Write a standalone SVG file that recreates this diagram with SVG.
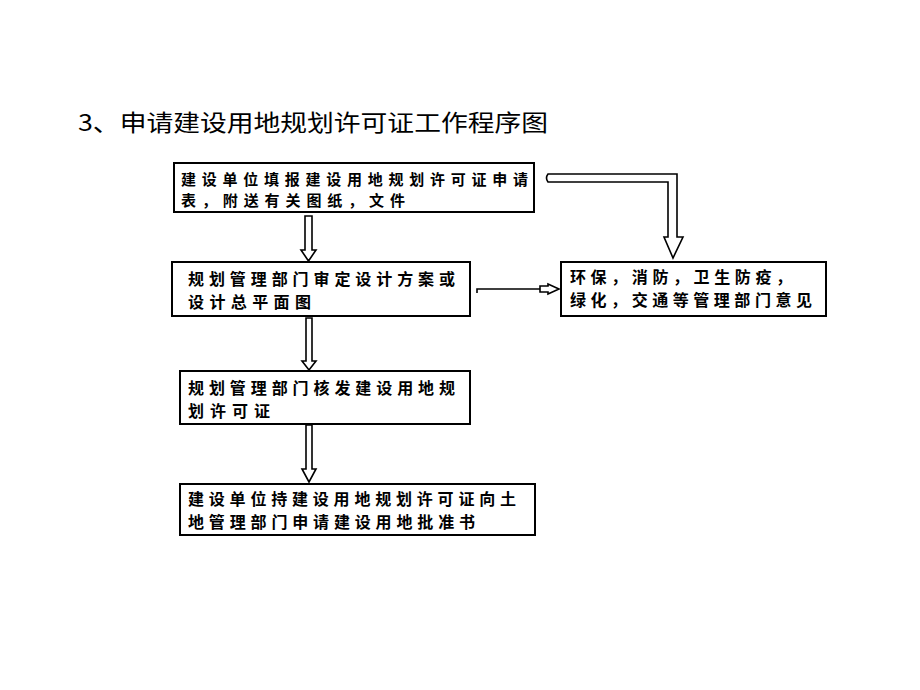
<svg xmlns="http://www.w3.org/2000/svg" width="920" height="690" viewBox="0 0 920 690">
<style>
.box{fill:#fff;stroke:#000;stroke-width:2}
.t{font-family:"Noto Sans CJK SC","Liberation Sans",sans-serif;font-size:16px;font-weight:bold;fill:#000}
.t1{font-size:15px}
.title{font-family:"Noto Sans CJK SC","Liberation Sans",sans-serif;font-size:23px;fill:#000}
.arr{fill:#fff;stroke:#000;stroke-width:1.6;stroke-linejoin:miter}
.ln{fill:none;stroke:#000;stroke-width:1.6}
</style>
<rect width="920" height="690" fill="#fff"/>
<text class="title" x="78" y="131" textLength="470" lengthAdjust="spacingAndGlyphs">3、申请建设用地规划许可证工作程序图</text>
<g id="connectors">
<path class="arr" d="M305,216 L312,216 L312,250 L316,250 L308.5,261 L301,250 L305,250 Z"/>
<path class="arr" d="M306,318 L312,318 L312,361 L316,361 L309,370 L302,361 L306,361 Z"/>
<path class="arr" d="M306,425 L312,425 L312,469 L316,469 L309,482 L302,469 L306,469 Z"/>
<path class="arr" d="M548,174 L677,174 L677,237 L683,237 L673,258 L664,237 L668,237 L668,182 L548,182 Q545,178 548,174 Z"/>
<path class="ln" d="M477,293 L477,289 L540,289"/>
<path class="arr" d="M540,286 L548,286 L548,284 L559,289 L548,294 L548,292 L540,292 Z"/>
</g>
<g id="n1">
<rect class="box" x="174" y="163" width="360" height="49"/>
<text class="t t1" x="181" y="185" textLength="347" lengthAdjust="spacing">建设单位填报建设用地规划许可证申请</text>
<text class="t t1" x="181" y="206" textLength="224" lengthAdjust="spacing">表，附送有关图纸，文件</text>
</g>
<g id="n2">
<rect class="box" x="172" y="262" width="298" height="54"/>
<text class="t" x="188" y="285" textLength="267" lengthAdjust="spacing">规划管理部门审定设计方案或</text>
<text class="t" x="188" y="308" textLength="123" lengthAdjust="spacing">设计总平面图</text>
</g>
<g id="n3">
<rect class="box" x="180" y="371" width="290" height="53"/>
<text class="t" x="188" y="394" textLength="267" lengthAdjust="spacing">规划管理部门核发建设用地规</text>
<text class="t" x="188" y="417" textLength="82" lengthAdjust="spacing">划许可证</text>
</g>
<g id="n4">
<rect class="box" x="180" y="484" width="355" height="51"/>
<text class="t" x="188" y="505" textLength="328" lengthAdjust="spacing">建设单位持建设用地规划许可证向土</text>
<text class="t" x="188" y="528" textLength="287" lengthAdjust="spacing">地管理部门申请建设用地批准书</text>
</g>
<g id="n5">
<rect class="box" x="561" y="262" width="265" height="54"/>
<text class="t" x="570" y="283" textLength="222" lengthAdjust="spacing">环保，消防，卫生防疫，</text>
<text class="t" x="570" y="306" textLength="242" lengthAdjust="spacing">绿化，交通等管理部门意见</text>
</g>
</svg>
